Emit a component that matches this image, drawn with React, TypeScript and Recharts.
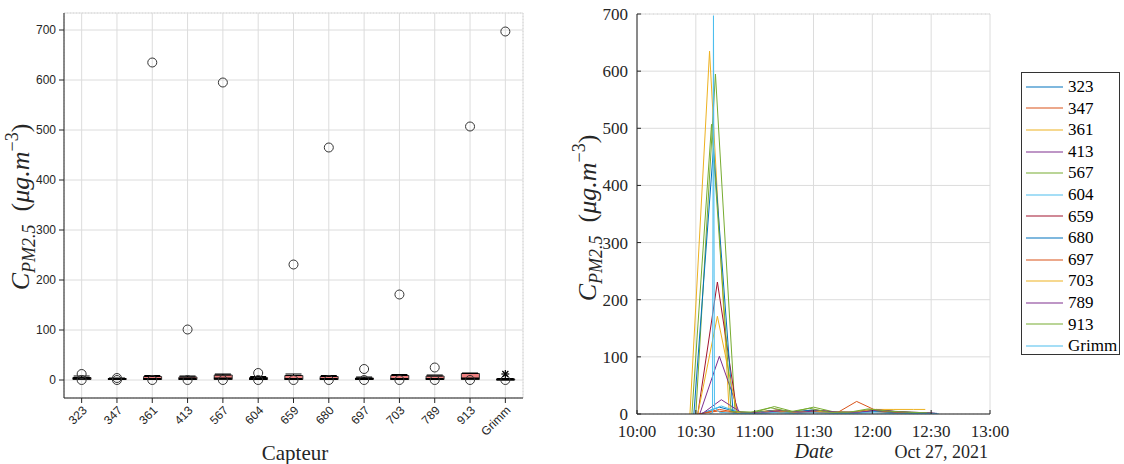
import React from 'react';
import { ComposedChart, LineChart, Line, Bar, Scatter, ErrorBar, XAxis, YAxis, CartesianGrid, Legend } from 'recharts';

// boxplot (left)
const sensors = ['323', '347', '361', '413', '567', '604', '659', '680', '697', '703', '789', '913', 'Grimm'];
const boxQ1 = [1, 1, 1, 1, 1, 1, 1, 1, 1, 1, 1, 1, 0];
const boxMedian = [3, 2, 2, 2, 3, 2, 2, 2, 2, 2, 2, 3, 1];
const boxQ3 = [5, 3, 7, 6, 10, 5, 9, 7, 4, 9, 8, 13, 2];
const whiskerHigh = [8, 4, 9, 8, 12, 7, 12, 9, 6, 11, 10, 14, 3];
const outlierHigh = [12, 4, 635, 101, 595, 14, 231, 465, 22, 171, 25, 507, 697];
const outlierLow = [0, 0, 0, 0, 0, 0, 0, 0, 0, 0, 0, 0, 0];
const grimmStar = 12;

// time series (right), minutes after 10:00
const t323 = [32, 42, 52, 62, 72, 82, 92, 102, 112, 122, 132, 142, 152];
const v323 = [0, 12, 3, 2, 5, 3, 5, 2, 3, 6, 3, 2, 1];
const t347 = [31, 41, 51, 61, 71, 81, 91, 101, 111, 121, 131, 141, 151];
const v347 = [0, 5, 2, 1, 3, 2, 3, 2, 2, 4, 2, 2, 1];
const t361 = [27, 37, 47, 57, 67, 77, 87, 97, 107, 117, 127, 137, 147];
const v361 = [0, 635, 4, 2, 6, 3, 6, 3, 2, 7, 4, 3, 2];
const t413 = [32, 42, 52, 62, 72, 82, 92, 102, 112, 122, 132, 142, 152];
const v413 = [0, 101, 3, 2, 7, 3, 6, 3, 3, 8, 4, 3, 1];
const t567 = [30, 40, 50, 60, 70, 80, 90, 100, 110, 120, 130, 140, 150];
const v567 = [0, 595, 4, 3, 13, 4, 12, 4, 3, 8, 5, 3, 2];
const t604 = [33, 43, 53, 63, 73, 83, 93, 103, 113, 123, 133, 143, 153];
const v604 = [0, 14, 2, 1, 4, 2, 4, 2, 2, 5, 3, 2, 1];
const t659 = [31, 41, 51, 61, 71, 81, 91, 101, 111, 121, 131, 141, 151];
const v659 = [0, 231, 3, 2, 7, 3, 7, 3, 3, 8, 4, 2, 1];
const t680 = [29, 39, 49, 59, 69, 79, 89, 99, 109, 119, 129, 139, 149];
const v680 = [0, 465, 3, 2, 6, 3, 7, 3, 2, 6, 3, 2, 1];
const t697 = [32, 42, 52, 62, 72, 82, 92, 102, 112, 122, 132, 142, 152];
const v697 = [0, 8, 2, 2, 5, 3, 4, 2, 22, 6, 3, 2, 1];
const t703 = [31, 41, 51, 61, 71, 81, 91, 101, 111, 121, 131, 141, 147];
const v703 = [0, 171, 3, 2, 6, 3, 5, 3, 3, 8, 8, 8, 8];
const t789 = [33, 43, 53, 63, 73, 83, 93, 103, 113, 123, 133, 143, 153];
const v789 = [0, 25, 3, 2, 6, 3, 6, 3, 3, 7, 4, 2, 1];
const t913 = [28, 38, 48, 58, 68, 78, 88, 98, 108, 118, 128, 138, 148];
const v913 = [0, 507, 4, 3, 11, 4, 10, 3, 3, 9, 5, 3, 2];
const tGrimm = [37, 38.5, 39, 39.5, 42, 46, 50, 60, 70, 80, 90, 100, 110, 120, 130, 140, 150, 154];
const vGrimm = [0, 2, 697, 12, 3, 2, 1, 1, 2, 1, 2, 1, 1, 2, 1, 1, 1, 0];

const seriesColors = ['#0072BD', '#D95319', '#EDB120', '#7E2F8E', '#77AC30', '#4DBEEE', '#A2142F',
  '#0072BD', '#D95319', '#EDB120', '#7E2F8E', '#77AC30', '#4DBEEE'];
const timeTicks = [0, 30, 60, 90, 120, 150, 180];

const allTimes = [t323, t347, t361, t413, t567, t604, t659, t680, t697, t703, t789, t913, tGrimm];
const allValues = [v323, v347, v361, v413, v567, v604, v659, v680, v697, v703, v789, v913, vGrimm];

const boxRows = sensors.map((name, i) => ({
  name, q1: boxQ1[i], med: boxMedian[i], q3: boxQ3[i], hi: whiskerHigh[i],
}));
const outlierRows = sensors.flatMap((name, i) => [
  { name, v: outlierHigh[i] },
  { name, v: outlierLow[i] },
]);
const starRows = [{ name: 'Grimm', v: grimmStar }];

const series = sensors.map((name, i) => ({
  name,
  color: seriesColors[i],
  data: allTimes[i].map((t, j) => ({ t, v: allValues[i][j] })),
}));

const AX = '#262626';
const SANS = 'Liberation Sans, Arial, sans-serif';
const SERIF = 'Liberation Serif, Times New Roman, serif';

const range = (a: number, b: number, s: number) => {
  const out: number[] = [];
  for (let v = a; v <= b + 1e-9; v += s) out.push(Math.round(v * 100) / 100);
  return out;
};
const yMajor = range(0, 700, 100);
const yMinorLeft = range(-20, 720, 20);
const yMinorRight = range(0, 700, 20);
const xMinorLeft = range(-0.4, 12.4, 0.2);

// px/py so that recharts' own x/y props don't move the label
function PmLabel({ px, py }: { px: number; py: number }) {
  return (
    <text transform={`translate(${px},${py}) rotate(-90)`} textAnchor="middle" fill={AX} fontFamily={SERIF} fontSize={26}>
      <tspan fontStyle="italic">C</tspan>
      <tspan fontStyle="italic" fontSize={18} dy={6}>PM2.5</tspan>
      <tspan dy={-6}>{'\u00a0\u00a0('}</tspan>
      <tspan fontStyle="italic">μg.m</tspan>
      <tspan fontSize={18} dy={-11}>−3</tspan>
      <tspan dy={11}>)</tspan>
    </text>
  );
}

function CapteurLabel() {
  return <text x={295} y={460} textAnchor="middle" fontFamily={SERIF} fontSize={21} fill={AX}>Capteur</text>;
}

function DateLabel() {
  return (
    <g fontFamily={SERIF} fill={AX}>
      <text x={254} y={458} textAnchor="middle" fontSize={20} fontStyle="italic">Date</text>
      <text x={428} y={458} textAnchor="end" fontSize={18}>Oct 27, 2021</text>
    </g>
  );
}

function SlantTick({ x, y, payload }: any) {
  const ax = x + 6;
  const ay = y + 6;
  return (
    <text x={ax} y={ay} transform={`rotate(-45 ${ax} ${ay})`} textAnchor="end" fontSize={12} fontFamily={SANS} fill={AX}>
      {payload.value}
    </text>
  );
}

function SerifTick({ x, y, payload, anchor, ox, oy, fmt }: any) {
  return (
    <text x={x + ox} y={y + oy} textAnchor={anchor} style={{ fontSize: '17px', fontFamily: SERIF }} fill={AX}>
      {fmt ? fmt(payload.value) : payload.value}
    </text>
  );
}

const MedianMark = ({ cx, cy }: any) => (
  <line x1={cx - 9} x2={cx + 9} y1={cy} y2={cy} stroke="#000" strokeWidth={2} />
);
const OutlierMark = ({ cx, cy }: any) => (
  <circle cx={cx} cy={cy} r={4.5} fill="none" stroke="#333" strokeWidth={1} />
);
const StarMark = ({ cx, cy }: any) => (
  <g stroke="#000" strokeWidth={1.2}>
    <line x1={cx - 4} x2={cx + 4} y1={cy} y2={cy} />
    <line x1={cx} x2={cx} y1={cy - 4} y2={cy + 4} />
    <line x1={cx - 3} x2={cx + 3} y1={cy - 3} y2={cy + 3} />
    <line x1={cx - 3} x2={cx + 3} y1={cy + 3} y2={cy - 3} />
  </g>
);
const NoMark = () => <g />;

function LegendBox({ payload }: any) {
  return (
    <div style={{ width: 99, height: 283, boxSizing: 'border-box', border: '1px solid #333', background: '#fff', paddingTop: 3, fontFamily: SERIF, fontSize: 17, color: '#000' }}>
      {(payload || []).map((p: any) => (
        <div key={p.value} style={{ display: 'flex', alignItems: 'center', height: 21.6, lineHeight: '21.6px' }}>
          <svg width={42} height={6} style={{ marginLeft: 4 }}>
            <line x1={0} x2={37} y1={3} y2={3} stroke={p.color} strokeWidth={1.2} />
          </svg>
          <span>{p.value}</span>
        </div>
      ))}
    </div>
  );
}

function BoxChart() {
  return (
    <ComposedChart width={560} height={464} data={boxRows} margin={{ top: 13, right: 37, bottom: 0, left: 0 }}>
      <CartesianGrid xAxisId="mx" yAxisId="my" stroke="#d2d2d2" strokeDasharray="1 2" />
      <CartesianGrid stroke="#dcdcdc" />
      <XAxis dataKey="name" type="category" allowDuplicatedCategory={false} height={66} stroke={AX}
        tickSize={5} tickMargin={2} tick={<SlantTick />} interval={0} label={<CapteurLabel />} />
      <XAxis xAxisId="mx" type="number" domain={[-0.5, 12.5]} ticks={xMinorLeft} allowDataOverflow height={0}
        tick={false} axisLine={false} tickLine={false} />
      <XAxis xAxisId="top" orientation="top" type="number" domain={[-0.5, 12.5]} ticks={range(0, 12, 1)} allowDataOverflow
        height={0} tick={false} tickSize={-4} stroke={AX} />
      <YAxis domain={[-36, 734]} ticks={yMajor} allowDataOverflow width={64} stroke={AX} tickSize={5} tickMargin={3}
        tick={{ fontSize: 12, fontFamily: SANS, fill: AX }} label={<PmLabel px={29} py={207} />} />
      <YAxis yAxisId="my" domain={[-36, 734]} ticks={yMinorLeft} allowDataOverflow width={0}
        tick={false} axisLine={false} tickLine={false} />
      <YAxis yAxisId="right" orientation="right" domain={[-36, 734]} ticks={yMajor} allowDataOverflow width={0}
        tick={false} tickSize={-4} stroke={AX} />
      <Bar dataKey={(d: any) => [d.q1, d.q3]} barSize={18} fill="#ef8080" stroke="#333" strokeWidth={1} isAnimationActive={false} />
      <Scatter dataKey="q3" shape={NoMark} isAnimationActive={false}>
        <ErrorBar dataKey={(d: any) => [0, d.hi - d.q3]} direction="y" width={8} stroke="#000" strokeWidth={1} />
      </Scatter>
      <Scatter dataKey="med" shape={MedianMark} isAnimationActive={false} />
      <Scatter data={outlierRows} dataKey="v" shape={OutlierMark} isAnimationActive={false} />
      <Scatter data={starRows} dataKey="v" shape={StarMark} isAnimationActive={false} />
    </ComposedChart>
  );
}

const fmtTime = (m: number) => `${10 + Math.floor(m / 60)}:${String(m % 60).padStart(2, '0')}`;

function TimeChart() {
  return (
    <LineChart width={564} height={464} margin={{ top: 14, right: 134, bottom: 0, left: 0 }}>
      <CartesianGrid yAxisId="minor" vertical={false} stroke="#d2d2d2" strokeDasharray="1 3" />
      <CartesianGrid stroke="#dcdcdc" />
      <XAxis dataKey="t" type="number" domain={[0, 180]} ticks={timeTicks} allowDataOverflow height={50}
        stroke={AX} tickSize={-4} tickMargin={0}
        tick={<SerifTick anchor="middle" ox={0} oy={27} fmt={fmtTime} />}
        label={<DateLabel />} />
      <YAxis domain={[0, 700]} ticks={yMajor} allowDataOverflow width={77} stroke={AX} tickSize={-4} tickMargin={0}
        tick={<SerifTick anchor="end" ox={-13} oy={6} />} label={<PmLabel px={36} py={218} />} />
      <YAxis yAxisId="minor" domain={[0, 700]} ticks={yMinorRight} allowDataOverflow width={0}
        tick={false} axisLine={false} tickLine={false} />
      {series.map((s) => (
        <Line key={s.name} data={s.data} dataKey="v" name={s.name} stroke={s.color} strokeWidth={1}
          dot={false} activeDot={false} isAnimationActive={false} />
      ))}
      <Legend layout="vertical" align="center" verticalAlign="middle" content={<LegendBox />}
        wrapperStyle={{ left: 461, top: 72, width: 99, height: 283 }} />
    </LineChart>
  );
}

export default function App() {
  return (
    <div style={{ position: 'absolute', left: 0, top: 0, width: 1124, height: 464, background: '#fff' }}>
      <div style={{ position: 'absolute', left: 0, top: 0 }}>
        <BoxChart />
      </div>
      <div style={{ position: 'absolute', left: 560, top: 0 }}>
        <TimeChart />
      </div>
    </div>
  );
}
